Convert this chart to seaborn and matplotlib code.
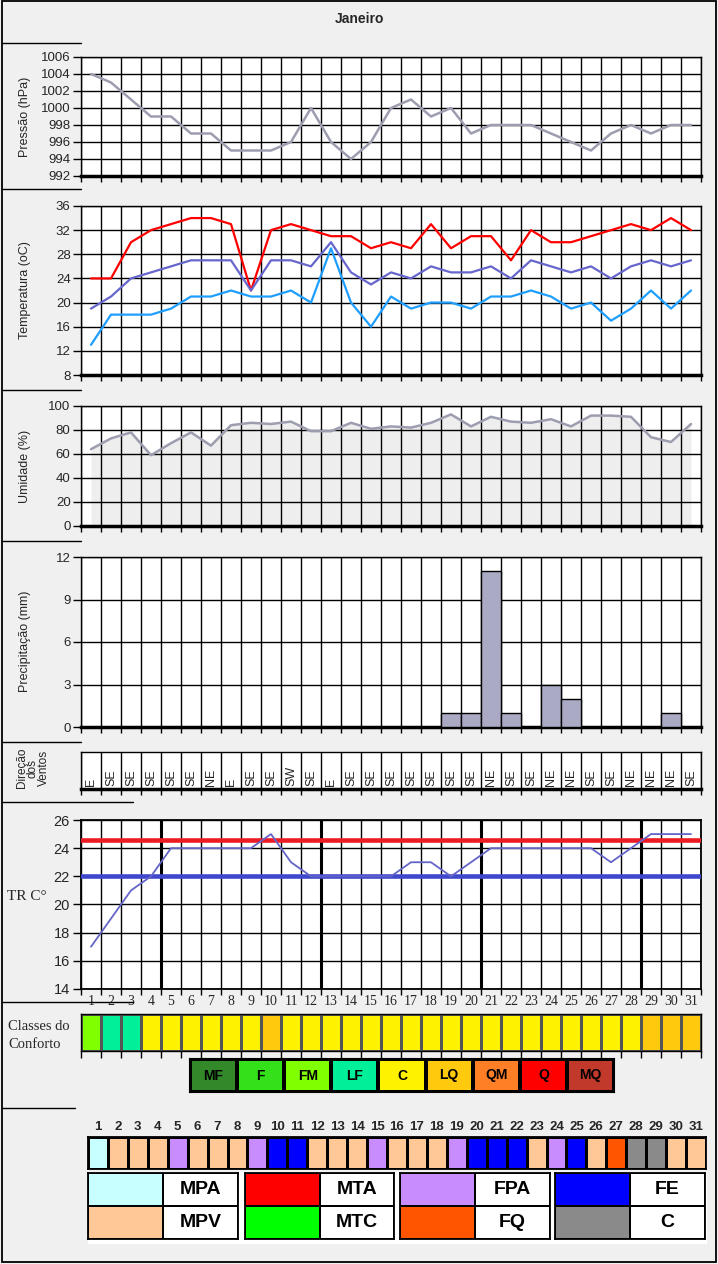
import numpy as np
import matplotlib
matplotlib.use('Agg')
import matplotlib.pyplot as plt
from matplotlib.colors import ListedColormap
from matplotlib.lines import Line2D
from matplotlib.patches import Rectangle
from matplotlib import font_manager
import seaborn as sns

sns.set_style('ticks')
plt.rcParams['font.family'] = ['Liberation Sans', 'DejaVu Sans']

names = {f.name for f in font_manager.fontManager.ttflist}
narrow = 'Liberation Sans Narrow' if 'Liberation Sans Narrow' in names else 'Liberation Sans'
serif = 'Liberation Serif'

# ---- data (janeiro) ----
days = list(range(1, 32))
pressure = [1004, 1003, 1001, 999, 999, 997, 997, 995, 995, 995, 996, 1000, 996, 994, 996,
            1000, 1001, 999, 1000, 997, 998, 998, 998, 997, 996, 995, 997, 998, 997, 998, 998]
tmax = [24, 24, 30, 32, 33, 34, 34, 33, 22, 32, 33, 32, 31, 31, 29, 30, 29, 33, 29, 31,
        31, 27, 32, 30, 30, 31, 32, 33, 32, 34, 32]
tmed = [19, 21, 24, 25, 26, 27, 27, 27, 22, 27, 27, 26, 30, 25, 23, 25, 24, 26, 25, 25,
        26, 24, 27, 26, 25, 26, 24, 26, 27, 26, 27]
tmin = [13, 18, 18, 18, 19, 21, 21, 22, 21, 21, 22, 20, 29, 20, 16, 21, 19, 20, 20, 19,
        21, 21, 22, 21, 19, 20, 17, 19, 22, 19, 22]
humidity = [64, 73, 78, 59, 69, 78, 67, 84, 86, 85, 87, 79, 79, 86, 81, 83, 82, 86, 93, 83,
            91, 87, 86, 89, 83, 92, 92, 91, 74, 70, 85]
rain = [0, 0, 0, 0, 0, 0, 0, 0, 0, 0, 0, 0, 0, 0, 0, 0, 0, 0, 1, 1,
        11, 1, 0, 3, 2, 0, 0, 0, 0, 1, 0]
wind = ['E', 'SE', 'SE', 'SE', 'SE', 'SE', 'NE', 'E', 'SE', 'SE', 'SW', 'SE', 'E', 'SE', 'SE',
        'SE', 'SE', 'SE', 'SE', 'SE', 'NE', 'SE', 'SE', 'NE', 'NE', 'SE', 'SE', 'NE', 'NE', 'NE', 'SE']
tr = [17, 19, 21, 22, 24, 24, 24, 24, 24, 25, 23, 22, 22, 22, 22, 22, 23, 23, 22, 23,
      24, 24, 24, 24, 24, 24, 23, 24, 25, 25, 25]
tr_upper = 24.6
tr_lower = 22.0

classes = ['MF', 'F', 'FM', 'LF', 'C', 'LQ', 'QM', 'Q', 'MQ']
class_colors = ['#33892a', '#33e01a', '#80ff00', '#00f09a', '#fff200', '#ffc90e',
                '#ff7f27', '#ff0000', '#c1392b']
conforto = ['FM', 'LF', 'LF', 'C', 'C', 'C', 'C', 'C', 'C', 'LQ', 'C', 'C', 'C', 'C', 'C',
            'C', 'C', 'C', 'C', 'C', 'C', 'C', 'C', 'C', 'C', 'C', 'C', 'C', 'LQ', 'LQ', 'LQ']

mass_names = ['MPA', 'MPV', 'MTA', 'MTC', 'FPA', 'FQ', 'FE', 'C']
mass_colors = ['#c8ffff', '#ffc896', '#ff0000', '#00ff00', '#c88cff', '#ff5500', '#0000ff', '#8a8a8a']
massas = ['MPA', 'MPV', 'MPV', 'MPV', 'FPA', 'MPV', 'MPV', 'MPV', 'FPA', 'FE', 'FE', 'MPV',
          'MPV', 'MPV', 'FPA', 'MPV', 'MPV', 'MPV', 'FPA', 'FE', 'FE', 'FE', 'MPV', 'FPA',
          'FE', 'MPV', 'FQ', 'C', 'C', 'MPV', 'MPV']

idx = np.arange(len(days))

W, H = 718, 1264
fig = plt.figure(figsize=(W / 100, H / 100), dpi=100, facecolor='#f0f0f0')


def add_px(x0, y0, x1, y1):
    return fig.add_axes([x0 / W, 1 - y1 / H, (x1 - x0) / W, (y1 - y0) / H])


def hline(x0, x1, y, lw=1.0):
    fig.add_artist(Line2D([x0 / W, x1 / W], [1 - y / H, 1 - y / H], color='black', lw=lw))


def style_panel(ax, yticks):
    ax.set_facecolor('white')
    ax.set_xlim(-0.5, 30.5)
    ax.set_ylim(yticks[0], yticks[-1])
    ax.set_yticks(yticks)
    ax.set_yticklabels([str(v) for v in yticks], fontfamily=narrow, fontsize=9.5)
    ax.set_xticks(np.arange(-0.5, 31, 1))
    ax.set_xticklabels([])
    ax.grid(True, color='black', linewidth=1)
    ax.tick_params(axis='x', length=4, width=1, color='black')
    ax.tick_params(axis='y', length=6, width=1, pad=1.5, color='black')
    for s in ax.spines.values():
        s.set_visible(True)
        s.set_color('black')
        s.set_linewidth(1)
    ax.spines['bottom'].set_linewidth(2.5)
    ax.set_xlabel('')
    ax.set_ylabel('')


def ylab(text, yc, x=25, size=9):
    fig.text(x / W, 1 - yc / H, text, rotation=90, ha='center', va='center', fontsize=size)


fig.text(0.5, 1 - 19 / H, 'Janeiro', ha='center', va='center', fontsize=10, fontweight='bold')

# pressao
ax1 = add_px(81, 57, 701, 176)
sns.lineplot(x=idx, y=pressure, ax=ax1, color='#9d9db0', lw=1.8, zorder=3)
style_panel(ax1, list(range(992, 1007, 2)))
ylab('Pressão (hPa)', 117)

# temperatura
ax2 = add_px(81, 206, 701, 375)
sns.lineplot(x=idx, y=tmax, ax=ax2, color='#ff0000', lw=1.6, zorder=3)
sns.lineplot(x=idx, y=tmed, ax=ax2, color='#6666cc', lw=1.6, zorder=3)
sns.lineplot(x=idx, y=tmin, ax=ax2, color='#1e9eff', lw=1.6, zorder=3)
style_panel(ax2, list(range(8, 37, 4)))
ylab('Temperatura (oC)', 290)

# umidade
ax3 = add_px(81, 406, 701, 526)
ax3.fill_between(idx, 0, humidity, color='#eeeeee', zorder=0.2, lw=0)
sns.lineplot(x=idx, y=humidity, ax=ax3, color='#9d9db0', lw=1.8, zorder=3)
style_panel(ax3, list(range(0, 101, 20)))
ylab('Umidade (%)', 466)

# precipitacao
ax4 = add_px(81, 557, 701, 727)
sns.barplot(x=idx, y=rain, ax=ax4, color='#aaaac4', width=1.0, edgecolor='black',
            linewidth=1, saturation=1, zorder=3)
style_panel(ax4, list(range(0, 13, 3)))
ylab('Precipitação (mm)', 641)

# direcao dos ventos
ax5 = add_px(81, 752, 701, 789)
ax5.set_facecolor('white')
ax5.set_xlim(-0.5, 30.5)
ax5.set_ylim(0, 1)
ax5.set_xticks(np.arange(-0.5, 31, 1))
ax5.set_xticklabels([])
ax5.set_yticks([])
ax5.grid(True, axis='x', color='black', linewidth=1)
ax5.tick_params(axis='x', length=4, width=1, color='black')
for s in ax5.spines.values():
    s.set_color('black')
    s.set_linewidth(1)
ax5.spines['bottom'].set_linewidth(2.5)
for i, w in zip(idx, wind):
    ax5.text(i, 0.08, w, rotation=90, ha='center', va='bottom', fontsize=9)
for k, t in enumerate(['Direção', 'dos', 'Ventos']):
    ylab(t, 768, x=22 + 11 * k, size=8.5)

# TR
ax6 = add_px(81, 820, 701, 989)
ax6.set_facecolor('white')
ax6.axhline(tr_upper, color='#ed1c24', lw=3.3, zorder=3)
ax6.axhline(tr_lower, color='#3f48cc', lw=3.3, zorder=3)
sns.lineplot(x=idx, y=tr, ax=ax6, color='#6464c8', lw=1.3, zorder=4)
ax6.set_xlim(-0.5, 30.5)
ax6.set_ylim(14, 26)
ax6.set_yticks(list(range(14, 27, 2)))
ax6.set_yticklabels([str(v) for v in range(14, 27, 2)], fontsize=10.5)
ax6.set_xticks(idx)
ax6.set_xticklabels([str(d) for d in days], fontfamily=serif, fontsize=10)
ax6.set_xticks(np.arange(-0.5, 31, 1), minor=True)
ax6.tick_params(axis='x', which='major', length=0, pad=4)
ax6.tick_params(axis='x', which='minor', length=4, width=1, color='black')
ax6.tick_params(axis='y', length=6, width=1, pad=2, color='black')
ax6.grid(True, which='minor', axis='x', color='black', linewidth=1)
ax6.grid(True, which='major', axis='y', color='black', linewidth=1)
for d in (4, 12, 20, 28):
    ax6.axvline(d - 0.5, color='black', lw=2.2, zorder=1)
for s in ax6.spines.values():
    s.set_color('black')
    s.set_linewidth(1.3)
ax6.set_xlabel('')
ax6.set_ylabel('')
fig.text(7 / W, 1 - 896 / H, 'TR C°', ha='left', va='center', fontsize=11, fontfamily=serif)

# classes do conforto
ax7 = add_px(81, 1014, 701, 1051)
codes = np.array([[classes.index(c) for c in conforto]])
sns.heatmap(codes, ax=ax7, cmap=ListedColormap(class_colors), vmin=-0.5, vmax=8.5, cbar=False,
            linewidths=0.8, linecolor='#555555', xticklabels=False, yticklabels=False)
ax7.set_xticks(np.arange(0, 32))
ax7.set_xticklabels([])
ax7.tick_params(axis='x', bottom=True, length=5, width=1, color='black')
for s in ax7.spines.values():
    s.set_visible(True)
    s.set_color('black')
    s.set_linewidth(1)
fig.text(8 / W, 1 - 1026 / H, 'Classes do', ha='left', va='center', fontsize=10.5, fontfamily=serif)
fig.text(8 / W, 1 - 1045 / H, 'Conforto', ha='left', va='center', fontsize=10.5, fontfamily=serif)

ax8 = add_px(190, 1059, 614, 1092)
sns.heatmap(np.arange(len(classes))[None, :], ax=ax8, cmap=ListedColormap(class_colors),
            vmin=-0.5, vmax=8.5, cbar=False, linewidths=1.5, linecolor='black',
            annot=np.array(classes)[None, :], fmt='',
            annot_kws=dict(color='black', fontsize=10, fontweight='bold', fontfamily=narrow),
            xticklabels=False, yticklabels=False)
for s in ax8.spines.values():
    s.set_visible(True)
    s.set_color('black')
    s.set_linewidth(1.5)

# massas de ar
ax9 = add_px(88, 1137, 706, 1169)
mcodes = np.array([[mass_names.index(m) for m in massas]])
sns.heatmap(mcodes, ax=ax9, cmap=ListedColormap(mass_colors), vmin=-0.5, vmax=7.5, cbar=False,
            linewidths=1, linecolor='black', xticklabels=days, yticklabels=False)
ax9.xaxis.tick_top()
ax9.tick_params(axis='x', length=0, pad=3, labelsize=9.5, rotation=0)
for lab in ax9.get_xticklabels():
    lab.set_fontweight('bold')
for s in ax9.spines.values():
    s.set_visible(True)
    s.set_color('black')
    s.set_linewidth(1.3)

fig.add_artist(Rectangle((88 / W, 1 - 1243 / H), (706 - 88) / W, (1243 - 1172) / H,
                         transform=fig.transFigure, color='white', zorder=0))
groups = [(88, 238), (245, 394), (400, 550), (555, 705)]
for g, (x0, x1) in enumerate(groups):
    top, bot = mass_names[2 * g], mass_names[2 * g + 1]
    axg = add_px(x0, 1173, x1, 1239)
    cm = ListedColormap([mass_colors[2 * g], mass_colors[2 * g + 1], 'white'])
    sns.heatmap(np.array([[0, 2], [1, 2]]), ax=axg, cmap=cm, vmin=-0.5, vmax=2.5, cbar=False,
                linewidths=1.2, linecolor='black',
                annot=np.array([['', top], ['', bot]]), fmt='',
                annot_kws=dict(color='black', fontsize=14, fontweight='bold', fontfamily=narrow),
                xticklabels=False, yticklabels=False)
    for s in axg.spines.values():
        s.set_visible(True)
        s.set_color('black')
        s.set_linewidth(1.3)

# moldura e separadores
fig.add_artist(Rectangle((2 / W, 1 - 1262 / H), (716 - 2) / W, (1262 - 1) / H,
                         transform=fig.transFigure, fill=False, edgecolor='black', lw=1.3))
for (x0, x1, y) in [(2, 81, 43), (2, 81, 189), (2, 81, 390), (2, 81, 541), (2, 81, 742),
                    (2, 133, 802), (2, 133, 1002), (2, 75, 1108)]:
    hline(x0, x1, y)

fig.savefig('out.png', dpi=100, facecolor=fig.get_facecolor())
